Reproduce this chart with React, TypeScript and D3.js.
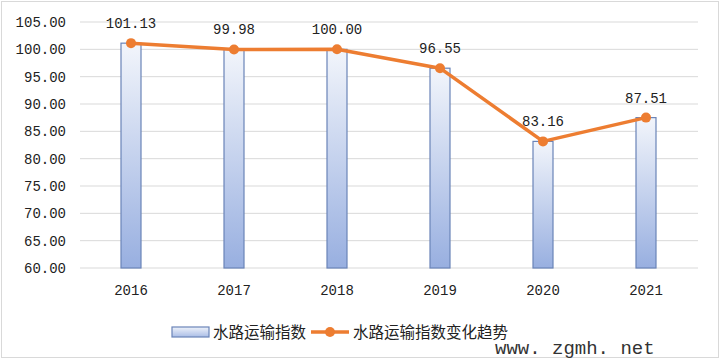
import React from "react";
import * as d3 from "d3";

const years = ["2016", "2017", "2018", "2019", "2020", "2021"];
const indexValues = [101.13, 99.98, 100.0, 96.55, 83.16, 87.51];
const yTicks = [60, 65, 70, 75, 80, 85, 90, 95, 100, 105];
const barName = "水路运输指数";
const lineName = "水路运输指数变化趋势";
const watermark = "www. zgmh. net";

export default function App() {
  const W = 720, H = 360;
  const x = d3.scaleBand<string>().domain(years).range([79.5, 697.5]);
  const y = d3.scaleLinear().domain([60, 105]).range([268, 22]);
  const barW = 20;
  const line = d3
    .line<number>()
    .x((_, i) => (x(years[i]) as number) + x.bandwidth() / 2)
    .y((d) => y(d));
  const numFont = "'Liberation Mono', 'DejaVu Sans Mono', monospace";
  const cjkFont = "'Noto Sans CJK SC', sans-serif";
  return (
    <svg width={W} height={H} style={{ position: "absolute", left: 0, top: 0 }}>
      <defs>
        <linearGradient id="barGrad" x1="0" y1="0" x2="0" y2="1">
          <stop offset="0%" stopColor="#f2f5fb" />
          <stop offset="100%" stopColor="#98afe0" />
        </linearGradient>
        <linearGradient id="legGrad" x1="0" y1="0" x2="0" y2="1">
          <stop offset="0%" stopColor="#eef2fa" />
          <stop offset="100%" stopColor="#aabde6" />
        </linearGradient>
      </defs>
      <rect x={0} y={0} width={W} height={H} fill="#fff" />
      <rect x={1.5} y={1.5} width={W - 3} height={H - 4} fill="none" stroke="#d9d9d9" strokeWidth={1} />
      {yTicks.map((t) => (
        <g key={t}>
          <line x1={80} x2={698} y1={y(t)} y2={y(t)} stroke="#d9d9d9" strokeWidth={1} />
          <text x={66} y={y(t) + 5} textAnchor="end" fontFamily={numFont} fontSize={14} fill="#222">
            {t.toFixed(2)}
          </text>
        </g>
      ))}
      {years.map((yr, i) => {
        const cx = (x(yr) as number) + x.bandwidth() / 2;
        return (
          <g key={yr}>
            <rect
              x={cx - barW / 2}
              y={y(indexValues[i])}
              width={barW}
              height={y(60) - y(indexValues[i])}
              fill="url(#barGrad)"
              stroke="#6a84b8"
              strokeWidth={1.2}
            />
            <text x={cx} y={295} textAnchor="middle" fontFamily={numFont} fontSize={14} fill="#222">
              {yr}
            </text>
          </g>
        );
      })}
      <path d={line(indexValues) || ""} fill="none" stroke="#ed7d31" strokeWidth={3.5} strokeLinejoin="round" />
      {indexValues.map((v, i) => {
        const cx = (x(years[i]) as number) + x.bandwidth() / 2;
        return (
          <g key={i}>
            <circle cx={cx} cy={y(v)} r={5} fill="#ed7d31" />
            <text x={cx} y={y(v) - 15} textAnchor="middle" fontFamily={numFont} fontSize={14} fill="#222">
              {v.toFixed(2)}
            </text>
          </g>
        );
      })}
      <rect x={172} y={327} width={37} height={10} fill="url(#legGrad)" stroke="#6a84b8" strokeWidth={1.2} />
      <text x={213} y={338} fontFamily={cjkFont} fontSize={15.5} fill="#222">{barName}</text>
      <line x1={311} x2={349} y1={332} y2={332} stroke="#ed7d31" strokeWidth={3.5} />
      <circle cx={330} cy={332} r={5} fill="#ed7d31" />
      <text x={353} y={338} fontFamily={cjkFont} fontSize={15.5} fill="#222">{lineName}</text>
      <text x={495} y={354} fontFamily={numFont} fontSize={19} fill="#333">{watermark}</text>
    </svg>
  );
}
